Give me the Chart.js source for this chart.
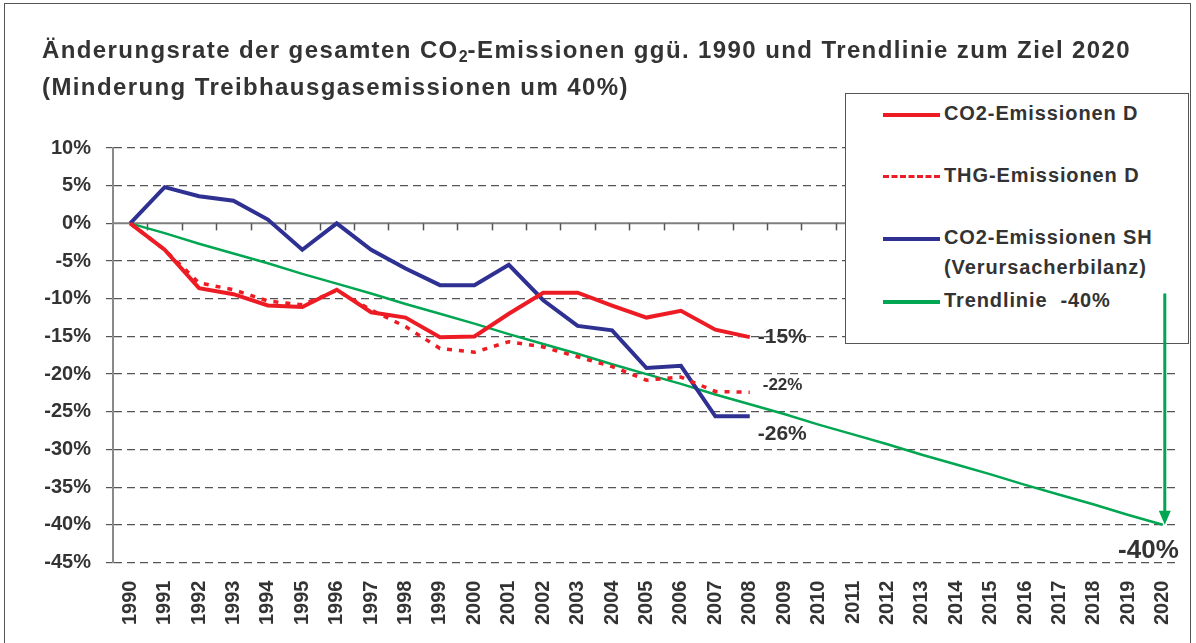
<!DOCTYPE html>
<html lang="de">
<head>
<meta charset="utf-8">
<title>Änderungsrate der CO2-Emissionen</title>
<script src="https://cdn.jsdelivr.net/npm/chart.js@4.4.1/dist/chart.umd.min.js"></script>
<style>
    html, body { margin: 0; padding: 0; background: #fff; }
    #wrap { position: relative; width: 1196px; height: 643px; overflow: hidden; }
    #frame {
        position: absolute; left: 4px; top: 3px; width: 1187px; height: 700px;
        border: 1.5px solid #555; box-sizing: border-box; pointer-events: none;
    }
    #title {
        position: absolute; left: 42px; top: 31px; margin: 0;
        font: bold 24px "Liberation Sans", Arial, sans-serif; line-height: 37px;
        letter-spacing: 1.4px; color: #333; white-space: nowrap;
    }
    #title sub { font-size: 16px; vertical-align: -4px; line-height: 0; letter-spacing: 0; }
    #legend {
        position: absolute; left: 845px; top: 93px; width: 344px; height: 251px;
        box-sizing: border-box; border: 1px solid #555; background: #fff;
        font: bold 20px "Liberation Sans", Arial, sans-serif; color: #333; letter-spacing: 0.9px;
    }
    #legend .row { position: absolute; left: 37px; display: flex; align-items: flex-start; }
    #legend .swatch { width: 57px; height: 0; margin-top: 12px; margin-right: 4px; }
    #legend .text { line-height: 30px; margin-top: -3px; white-space: pre; }
    #chart { position: absolute; left: 0; top: 0; }
    #arrow { position: absolute; left: 0; top: 0; pointer-events: none; }
</style>
</head>
<body>
<div id="wrap">
    <canvas id="chart" width="1196" height="643"></canvas>
    <div id="title">Änderungsrate der gesamten CO<sub>2</sub>-Emissionen ggü. 1990 und Trendlinie zum Ziel 2020<br>(Minderung Treibhausgasemissionen um 40%)</div>
    <div id="legend"></div>
    <canvas id="arrow" width="1196" height="643"></canvas>
    <div id="frame"></div>
</div>
<script>
// Years on the x axis
const years = [
    '1990', '1991', '1992', '1993', '1994', '1995', '1996', '1997', '1998', '1999',
    '2000', '2001', '2002', '2003', '2004', '2005', '2006', '2007', '2008', '2009',
    '2010', '2011', '2012', '2013', '2014', '2015', '2016', '2017', '2018', '2019', '2020'
];

// Change vs. 1990 in percent (1990 - 2008)
const co2D = [0, -3.5, -8.6, -9.4, -10.9, -11.1, -8.8, -11.8, -12.5, -15.1,
    -15.0, -12.0, -9.2, -9.2, -10.9, -12.5, -11.6, -14.1, -15.1];
const thgD = [0, -3.5, -7.9, -8.8, -10.3, -10.8, -8.9, -11.5, -13.7, -16.6,
    -17.1, -15.7, -16.4, -17.7, -19.0, -20.8, -20.4, -22.3, -22.4];
const co2SH = [0, 4.8, 3.6, 3.0, 0.5, -3.5, 0.0, -3.5, -6.0, -8.2,
    -8.2, -5.5, -10.2, -13.6, -14.2, -19.2, -18.9, -25.6, -25.6];

// Trend line towards the 2020 target (1990 - 2020)
const trend = [0, -1.3, -2.7, -4.0, -5.3, -6.7, -8.0, -9.3, -10.7, -12.0,
    -13.3, -14.7, -16.0, -17.3, -18.7, -20.0, -21.3, -22.7, -24.0, -25.3,
    -26.7, -28.0, -29.3, -30.7, -32.0, -33.3, -34.7, -36.0, -37.3, -38.7, -40.0];

// Y axis range and where the target arrow starts
const yMin = -45;
const yMax = 10;
const yStep = 5;
const arrowFrom = -9.3;

const seriesNames = ['CO2-Emissionen D', 'THG-Emissionen D', 'CO2-Emissionen SH\n(Verursacherbilanz)', 'Trendlinie  -40%'];

const FONT = '"Liberation Sans", Arial, sans-serif';
const TEXT = '#333333';
const RED = '#ed1c24';
const BLUE = '#2e3192';
const GREEN = '#00a651';

const lastOf = arr => arr[arr.length - 1];
const pctLabel = v => Math.round(v) + '%';

// Zero line with Excel-like tick marks and the end labels
const overlayPlugin = {
    id: 'overlay',
    beforeDatasetsDraw(chart) {
        const { ctx, chartArea, scales: { x, y } } = chart;
        const y0 = y.getPixelForValue(0);
        const step = x.getPixelForValue(1) - x.getPixelForValue(0);
        ctx.save();
        ctx.strokeStyle = '#7f7f7f';
        ctx.lineWidth = 2;
        ctx.beginPath();
        ctx.moveTo(chartArea.left, y0);
        ctx.lineTo(chartArea.right, y0);
        ctx.stroke();
        ctx.lineWidth = 1.5;
        ctx.strokeStyle = '#555';
        for (let i = 1; i < years.length; i++) {
            const px = Math.round(x.getPixelForValue(i) - step / 2) + 0.5;
            ctx.beginPath();
            ctx.moveTo(px, y0);
            ctx.lineTo(px, y0 + 7);
            ctx.stroke();
        }
        ctx.restore();
    },
    afterDatasetsDraw(chart) {
        const { ctx, scales: { x, y } } = chart;
        const endX = x.getPixelForValue(co2D.length - 1);
        const lastX = x.getPixelForValue(years.length - 1);
        ctx.save();
        ctx.fillStyle = TEXT;
        ctx.textBaseline = 'middle';
        ctx.textAlign = 'left';

        ctx.font = 'bold 21px ' + FONT;
        ctx.fillText(pctLabel(lastOf(co2D)), endX + 8, y.getPixelForValue(lastOf(co2D)));
        ctx.fillText(pctLabel(lastOf(co2SH)), endX + 8, y.getPixelForValue(lastOf(co2SH)) + 18);

        ctx.font = 'bold 17px ' + FONT;
        ctx.fillText(pctLabel(lastOf(thgD)), endX + 13, y.getPixelForValue(lastOf(thgD)) - 7);

        ctx.font = 'bold 26px ' + FONT;
        ctx.textAlign = 'right';
        ctx.fillText(pctLabel(lastOf(trend)), lastX + 16, y.getPixelForValue(lastOf(trend)) + 26);
        ctx.restore();
    },
    afterDraw(chart) {
        // target arrow, drawn on a top layer so it crosses the legend box
        const { scales: { x, y } } = chart;
        const actx = document.getElementById('arrow').getContext('2d');
        const lastX = x.getPixelForValue(years.length - 1) + 2;
        const top = y.getPixelForValue(arrowFrom);
        const tip = y.getPixelForValue(lastOf(trend));
        actx.clearRect(0, 0, 1196, 643);
        actx.strokeStyle = GREEN;
        actx.fillStyle = GREEN;
        actx.lineWidth = 3;
        actx.beginPath();
        actx.moveTo(lastX, top);
        actx.lineTo(lastX, tip - 12);
        actx.stroke();
        actx.beginPath();
        actx.moveTo(lastX - 6, tip - 14);
        actx.lineTo(lastX + 6, tip - 14);
        actx.lineTo(lastX, tip);
        actx.closePath();
        actx.fill();
    }
};

const ctx = document.getElementById('chart').getContext('2d');

const chart = new Chart(ctx, {
    type: 'line',
    data: {
        labels: years,
        datasets: [
            {
                label: seriesNames[0],
                data: co2D,
                borderColor: RED,
                borderWidth: 4
            },
            {
                label: seriesNames[1],
                data: thgD,
                borderColor: RED,
                borderWidth: 3.5,
                borderDash: [5, 7]
            },
            {
                label: seriesNames[2],
                data: co2SH,
                borderColor: BLUE,
                borderWidth: 4
            },
            {
                label: seriesNames[3],
                data: trend,
                borderColor: GREEN,
                borderWidth: 2.5
            }
        ]
    },
    options: {
        responsive: false,
        animation: false,
        devicePixelRatio: 1,
        layout: {
            padding: { left: 42, right: 16, top: 148, bottom: 0 }
        },
        elements: {
            point: { radius: 0, hoverRadius: 0 },
            line: { tension: 0, borderCapStyle: 'butt', borderJoinStyle: 'miter', fill: false }
        },
        plugins: {
            legend: { display: false },
            tooltip: { enabled: false },
            title: { display: false }
        },
        scales: {
            x: {
                type: 'category',
                offset: true,
                afterFit(scale) { scale.paddingLeft = 0; scale.paddingRight = 0; },
                grid: { display: false, drawTicks: false },
                border: { display: false },
                ticks: {
                    color: TEXT,
                    font: { family: FONT, size: 20, weight: 'bold' },
                    maxRotation: 90,
                    minRotation: 90,
                    autoSkip: false,
                    padding: 18
                }
            },
            y: {
                min: yMin,
                max: yMax,
                afterFit(scale) { scale.width = 71; },
                ticks: {
                    stepSize: yStep,
                    color: TEXT,
                    padding: 15,
                    font: { family: FONT, size: 20, weight: 'bold' },
                    callback: v => v + '%'
                },
                grid: {
                    color: c => (c.tick && c.tick.value === 0) ? 'rgba(0,0,0,0)' : '#555',
                    lineWidth: 1.2,
                    tickLength: 7,
                    tickColor: '#555',
                    tickWidth: 1.2
                },
                border: { display: true, color: '#8a8a8a', width: 2, dash: [8, 5] }
            }
        }
    },
    plugins: [overlayPlugin]
});

// HTML legend built from the chart's datasets
(function buildLegend() {
    const box = document.getElementById('legend');
    const rowTops = [7, 69, 131, 194];
    chart.data.datasets.forEach((ds, i) => {
        const row = document.createElement('div');
        row.className = 'row';
        row.style.top = rowTops[i] + 'px';
        const sw = document.createElement('div');
        sw.className = 'swatch';
        const style = ds.borderDash ? 'dashed' : 'solid';
        sw.style.borderTop = (ds.borderDash ? 3 : 4) + 'px ' + style + ' ' + ds.borderColor;
        const txt = document.createElement('div');
        txt.className = 'text';
        txt.textContent = ds.label;
        row.appendChild(sw);
        row.appendChild(txt);
        box.appendChild(row);
    });
})();
</script>
</body>
</html>
